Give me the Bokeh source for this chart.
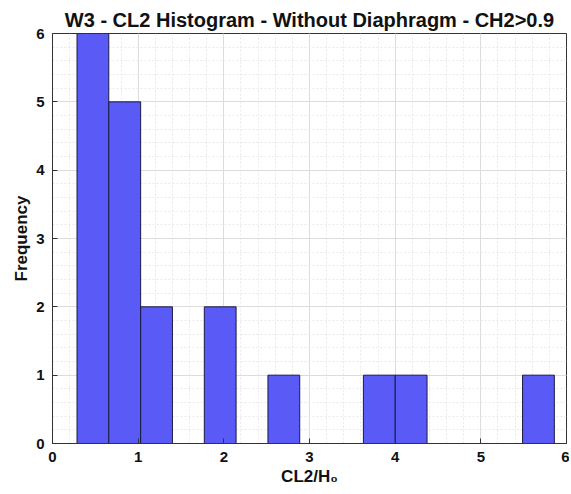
from bokeh.plotting import figure
from bokeh.models import SingleIntervalTicker, Range1d, ColumnDataSource
from bokeh.embed import file_html
from bokeh.resources import INLINE

# histogram bin edges (CL2/H0) and counts
bin_edges = [0.286, 0.657, 1.029, 1.400, 1.772, 2.143, 2.515, 2.886,
             3.258, 3.629, 4.001, 4.372, 4.744, 5.115, 5.487, 5.858]
counts = [6, 5, 2, 0, 2, 0, 1, 0, 0, 1, 1, 0, 0, 0, 1]

src = ColumnDataSource(dict(left=bin_edges[:-1], right=bin_edges[1:],
                            top=counts, bottom=[0] * len(counts)))

FONT = "Liberation Sans"

p = figure(frame_width=514, frame_height=410, output_backend="svg", toolbar_location=None,
           x_range=Range1d(0, 6), y_range=Range1d(0, 6),
           title="W3 - CL2 Histogram - Without Diaphragm - CH2>0.9",
           x_axis_label="CL2/H₀", y_axis_label="Frequency",
           min_border_left=52, min_border_right=3, min_border_top=33, min_border_bottom=43)

p.title.text_font = FONT
p.title.text_font_style = "bold"
p.title.text_font_size = "20px"
p.title.align = "center"
p.title.text_color = "#111111"
p.title.standoff = 6

p.quad(left="left", right="right", top="top", bottom="bottom", source=src,
       fill_color="#5a5af7", fill_alpha=1.0, line_color="#1a1a40", line_width=1)

for ax in (p.xaxis[0], p.yaxis[0]):
    ax.ticker = SingleIntervalTicker(interval=1, num_minor_ticks=5)
    ax.major_tick_in = 5
    ax.major_tick_out = 0
    ax.minor_tick_line_color = None
    ax.major_label_text_font = FONT
    ax.major_label_text_font_style = "bold"
    ax.major_label_text_font_size = "15px"
    ax.major_label_text_color = "#111111"
    ax.axis_label_text_font = FONT
    ax.axis_label_text_font_style = "bold"
    ax.axis_label_text_font_size = "17px"
    ax.axis_label_text_color = "#111111"
    ax.axis_line_color = "#333333"
    ax.major_tick_line_color = "#333333"
    ax.major_label_standoff = 4
    ax.axis_label_standoff = 2

p.xgrid.ticker = SingleIntervalTicker(interval=1, num_minor_ticks=5)
p.ygrid.ticker = SingleIntervalTicker(interval=1, num_minor_ticks=5)
p.grid.grid_line_color = "#dcdcdc"
p.grid.grid_line_width = 1
p.grid.minor_grid_line_color = "#e8e8e8"
p.grid.minor_grid_line_dash = "2 2"
p.grid.level = "underlay"
p.outline_line_color = "#333333"
p.background_fill_color = "white"
p.border_fill_color = "white"

open("out.html", "w").write(file_html(p, INLINE))
